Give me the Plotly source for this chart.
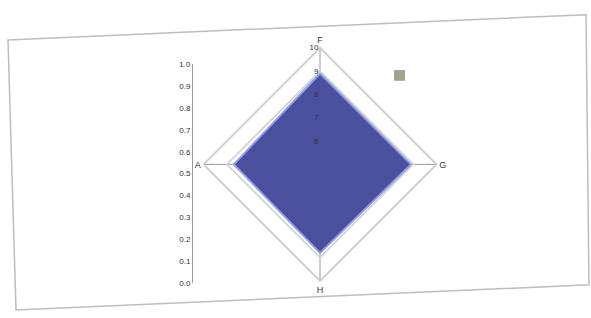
import plotly.graph_objects as go

categories = ["F", "G", "H", "A"]
values = [8.9, 8.9, 8.8, 8.7]
radial_ticks = [5, 6, 7, 8, 9, 10]
left_ticks = [0.0, 0.1, 0.2, 0.3, 0.4, 0.5, 0.6, 0.7, 0.8, 0.9, 1.0]
left_labels = ["0.0", "0.1", "0.2", "0.3", "0.4", "0.5", "0.6", "0.7", "0.8", "0.9", "1.0"]

W, H = 591, 318
fnt = dict(family="Liberation Sans, Arial, sans-serif", size=8, color="#333333")

fig = go.Figure()
fig.add_trace(go.Scatterpolar(
    r=values + values[:1], theta=categories + categories[:1],
    mode="lines", fill="toself",
    fillcolor="#4a4f9e", line=dict(color="#8f9ee6", width=2),
    showlegend=False, hoverinfo="skip"))

# invisible trace to carry the secondary linear axis
fig.add_trace(go.Scatter(x=[0, 1], y=[0, 1], mode="markers",
                         marker=dict(opacity=0), xaxis="x", yaxis="y",
                         showlegend=False, hoverinfo="skip"))

fig.update_layout(
    width=W, height=H,
    margin=dict(l=0, r=0, t=0, b=0),
    paper_bgcolor="white", plot_bgcolor="rgba(0,0,0,0)",
    font=fnt,
    polar=dict(
        domain=dict(x=[0.338, 0.745], y=[0.104, 0.858]),
        bgcolor="white",
        gridshape="linear",
        angularaxis=dict(rotation=90, direction="clockwise",
                         categoryarray=categories, categoryorder="array",
                         showline=True, linecolor="#cfcfcf", linewidth=2,
                         gridcolor="#9a9a9a", gridwidth=1,
                         ticks="", tickfont=dict(family=fnt["family"], size=9, color="#333333")),
        radialaxis=dict(range=[radial_ticks[0], radial_ticks[-1]],
                        tickvals=radial_ticks[1:], ticktext=[str(v) for v in radial_ticks[1:]],
                        angle=90, side="counterclockwise", tickangle=90,
                        showline=False, gridcolor="#d6d6d6", gridwidth=2,
                        ticks="", tickfont=fnt),
    ),
    xaxis=dict(domain=[0.32, 0.33], visible=False, range=[0, 1]),
    yaxis=dict(domain=[0.0975, 0.805], range=[0, 1], anchor="free", position=0.325,
               tickvals=left_ticks, ticktext=left_labels,
               showline=True, linecolor="#9a9a9a", linewidth=1,
               showgrid=False, zeroline=False, ticks="", tickfont=fnt),
    shapes=[
        dict(type="path", xref="paper", yref="paper",
             path="M %f,%f L %f,%f L %f,%f L %f,%f Z" % (
                 8 / W, 1 - 37 / H, 586 / W, 1 - 11 / H,
                 589 / W, 1 - 289 / H, 16 / W, 1 - 315 / H),
             line=dict(color="#bdbdbd", width=1.5)),
        dict(type="rect", xref="paper", yref="paper",
             x0=394 / W, x1=405 / W, y0=1 - 79 / H, y1=1 - 68 / H,
             fillcolor="#a3a38e", line=dict(width=0)),
    ],
)

fig.write_html("out.html", config={"displayModeBar": False},
               post_script="document.body.style.margin='0';")
